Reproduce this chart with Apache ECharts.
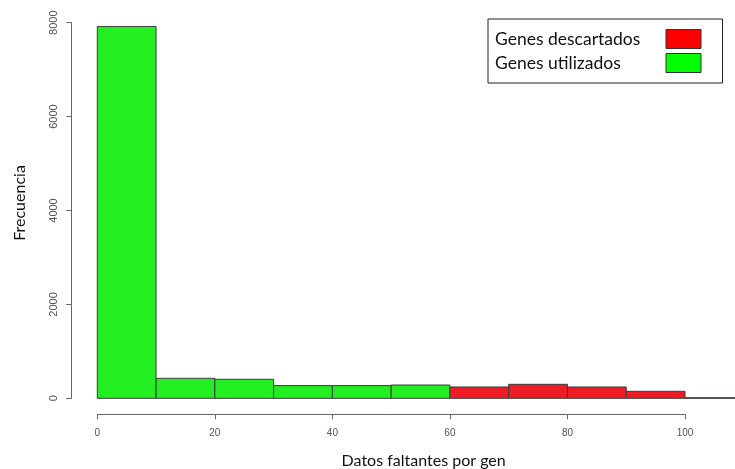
<!DOCTYPE html>
<html>
<head>
<meta charset="utf-8">
<script src="https://cdn.jsdelivr.net/npm/echarts@6/dist/echarts.min.js"></script>
<style>
    html, body { margin: 0; padding: 0; background: #fff; }
    #chart { width: 735px; height: 469px; }
</style>
</head>
<body>
<div id="chart"></div>
<script>
// histogram bins (lower edge) and frequencies
const binStarts = [0, 10, 20, 30, 40, 50, 60, 70, 80, 90, 100];
const binWidth = 10;
const counts = [7920, 426, 405, 270, 270, 283, 241, 298, 241, 149, 12];
const discardFrom = 60;

const usedName = 'Genes utilizados';
const discardName = 'Genes descartados';

function buildBins(keep) {
    const out = [];
    for (let i = 0; i < binStarts.length; i++) {
        if (keep(binStarts[i])) {
            out.push([binStarts[i], binStarts[i] + binWidth, counts[i]]);
        }
    }
    return out;
}

function renderBin(color) {
    return function (params, api) {
        const top = api.coord([api.value(0), api.value(2)]);
        const bottom = api.coord([api.value(1), 0]);
        return {
            type: 'rect',
            shape: {
                x: top[0],
                y: top[1],
                width: bottom[0] - top[0],
                height: bottom[1] - top[1]
            },
            style: {
                fill: color,
                stroke: '#3c3c3c',
                lineWidth: 1
            }
        };
    };
}

const chart = echarts.init(document.getElementById('chart'));

const option = {
    animation: false,
    backgroundColor: '#fff',
    grid: {
        left: 97.3,
        right: 50,
        top: 22.7,
        bottom: 70.7,
        outerBoundsMode: 'none'
    },
    legend: {
        orient: 'vertical',
        left: 488,
        top: 19,
        align: 'right',
        padding: [10, 21, 10, 7],
        itemGap: 4,
        itemWidth: 35,
        itemHeight: 19,
        backgroundColor: '#fff',
        borderColor: '#222',
        borderWidth: 1,
        borderRadius: 0,
        selectedMode: false,
        formatter: name => '{t|' + name + '}',
        textStyle: {
            rich: {
                t: {
                    fontFamily: 'Lato',
                    fontSize: 17.5,
                    color: '#111',
                    width: 166,
                    align: 'left',
                    lineHeight: 19
                }
            }
        },
        data: [
            {name: discardName, icon: 'rect', itemStyle: {color: '#ff0000', borderColor: '#333', borderWidth: 1}},
            {name: usedName, icon: 'rect', itemStyle: {color: '#00ff00', borderColor: '#333', borderWidth: 1}}
        ]
    },
    xAxis: {
        type: 'value',
        min: 0,
        max: 100,
        interval: 20,
        offset: 16,
        name: 'Datos faltantes por gen',
        nameLocation: 'middle',
        nameGap: 39,
        nameTextStyle: {
            fontFamily: 'Lato',
            fontSize: 16,
            color: '#111',
            padding: [0, 0, 0, 65]
        },
        axisLine: {show: true, onZero: false, lineStyle: {color: '#666', width: 1}},
        axisTick: {show: true, length: 5, lineStyle: {color: '#666'}},
        axisLabel: {
            fontFamily: 'Liberation Sans',
            fontSize: 10,
            color: '#555',
            margin: 14,
            formatter: v => String(v)
        },
        splitLine: {show: false}
    },
    yAxis: {
        type: 'value',
        min: 0,
        max: 8000,
        interval: 2000,
        offset: 26,
        name: 'Frecuencia',
        nameLocation: 'middle',
        nameGap: 43,
        nameTextStyle: {
            fontFamily: 'Lato',
            fontSize: 16,
            color: '#111',
            padding: [0, 0, 0, 15]
        },
        axisLine: {show: true, onZero: false, lineStyle: {color: '#666', width: 1}},
        axisTick: {show: true, length: 5, lineStyle: {color: '#666'}},
        axisLabel: {
            fontFamily: 'Liberation Sans',
            fontSize: 11,
            color: '#555',
            rotate: 90,
            margin: 12,
            formatter: v => String(v)
        },
        splitLine: {show: false}
    },
    series: [
        {
            name: usedName,
            type: 'custom',
            clip: false,
            itemStyle: {color: '#22ee22'},
            encode: {x: [0, 1], y: 2},
            renderItem: renderBin('#22ee22'),
            data: buildBins(s => s < discardFrom)
        },
        {
            name: discardName,
            type: 'custom',
            clip: false,
            itemStyle: {color: '#ee1c24'},
            encode: {x: [0, 1], y: 2},
            renderItem: renderBin('#ee1c24'),
            data: buildBins(s => s >= discardFrom)
        }
    ]
};

chart.setOption(option);
</script>
</body>
</html>
